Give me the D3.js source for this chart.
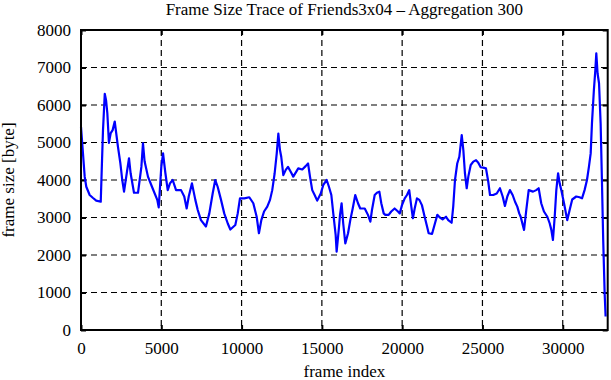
<!DOCTYPE html>
<html>
<head>
<meta charset="utf-8">
<script src="https://cdn.jsdelivr.net/npm/d3@7"></script>
<style>
  body { margin: 0; background: #fff; }
  text { font-family: "Liberation Serif", "DejaVu Serif", serif; fill: #000; }
</style>
</head>
<body>
<div id="chart"></div>
<script>
// data (frame index, mean frame size in byte)
var frameIndex = [0, 230, 330, 540, 750, 950, 1230, 1310, 1370, 1480, 1560, 1640, 1740, 1850, 1970, 2100,
  2300, 2450, 2570, 2680, 2880, 2990, 3090, 3300, 3550, 3760, 3860, 3960, 4170, 4420, 4750, 4840,
  5000, 5110, 5250, 5400, 5540, 5710, 5920, 6230, 6430, 6580, 6710, 6910, 7120, 7270, 7470, 7780,
  7990, 8200, 8360, 8510, 8720, 8920, 9140, 9300, 9610, 9760, 9900, 10170, 10480, 10730, 10940, 11080,
  11230, 11400, 11600, 11770, 11910, 12060, 12190, 12290, 12390, 12470, 12600, 12750, 12890, 13060, 13220, 13530,
  13780, 13990, 14140, 14260, 14400, 14550, 14710, 14930, 15090, 15300, 15440, 15590, 15710, 15860, 15920, 16070,
  16130, 16230, 16330, 16460, 16630, 16770, 16920, 17080, 17250, 17390, 17670, 17870, 18020, 18120, 18290, 18430,
  18580, 18700, 18850, 18950, 19160, 19320, 19530, 19740, 19850, 19990, 20160, 20300, 20440, 20570, 20670, 20780,
  20920, 21070, 21230, 21400, 21550, 21650, 21860, 22040, 22190, 22350, 22520, 22730, 22870, 23080, 23180, 23290,
  23430, 23560, 23710, 23810, 23910, 24020, 24120, 24270, 24430, 24600, 24740, 24890, 25050, 25220, 25360, 25470,
  25670, 25890, 26090, 26260, 26400, 26550, 26710, 26880, 27030, 27170, 27290, 27380, 27590, 27730, 27880, 28150,
  28350, 28500, 28660, 28830, 29040, 29190, 29290, 29390, 29500, 29600, 29710, 29810, 29910, 30080, 30280, 30430,
  30590, 30840, 31050, 31200, 31360, 31510, 31630, 31740, 31820, 31940, 32030, 32090, 32170, 32260, 32360, 32440,
  32520, 32610, 32670];

var frameSize = [5420, 4090, 3820, 3600, 3520, 3450, 3420, 4530, 5330, 6300, 6130, 5780, 4990, 5250, 5330, 5560,
  4890, 4450, 4000, 3690, 4270, 4580, 4180, 3660, 3660, 4350, 4980, 4500, 4090, 3820, 3470, 3270,
  4350, 4710, 4200, 3730, 3910, 4000, 3730, 3730, 3560, 3240, 3560, 3910, 3470, 3200, 2930, 2760,
  3110, 3640, 4000, 3820, 3470, 3110, 2840, 2680, 2800, 3110, 3510, 3510, 3540, 3380, 3020, 2580,
  2930, 3160, 3290, 3470, 3730, 4180, 4710, 5240, 4800, 4620, 4130, 4270, 4350, 4220, 4090, 4310,
  4280, 4370, 4440, 4090, 3730, 3600, 3450, 3640, 3870, 4000, 3820, 3600, 3110, 2530, 2090, 2760,
  3070, 3380, 2840, 2310, 2580, 2930, 3240, 3600, 3380, 3240, 3240, 3070, 2890, 3200, 3600, 3660,
  3690, 3380, 3110, 3070, 3070, 3160, 3240, 3160, 3110, 3330, 3510, 3600, 3730, 3290, 2980, 3240,
  3510, 3470, 3330, 3020, 2760, 2580, 2560, 2840, 3070, 3000, 2950, 3020, 2930, 2860, 3290, 4000,
  4440, 4620, 5200, 4800, 4180, 3780, 4090, 4400, 4490, 4530, 4460, 4340, 4330, 4310, 3960, 3600,
  3600, 3640, 3780, 3560, 3310, 3560, 3730, 3600, 3420, 3290, 3110, 3020, 2670, 3200, 3730, 3690,
  3730, 3780, 3380, 3160, 3020, 2840, 2670, 2400, 3020, 3730, 4180, 3910, 3730, 3380, 2930, 3200,
  3480, 3560, 3540, 3510, 3730, 4000, 4350, 4710, 5510, 6400, 6930, 7380, 6840, 6580, 5510, 4000,
  2400, 980, 360];

var xTicks = [0, 5000, 10000, 15000, 20000, 25000, 30000];
var yTicks = [0, 1000, 2000, 3000, 4000, 5000, 6000, 7000, 8000];

var svgWidth = 611;
var svgHeight = 380;
var margin = { top: 30, right: 3.3, bottom: 50, left: 81 };
var width = svgWidth - margin.left - margin.right;
var height = svgHeight - margin.top - margin.bottom;
var fontSize = "17px";

var svg = d3.select("#chart").append("svg")
  .attr("width", svgWidth)
  .attr("height", svgHeight);

var chartGroup = svg.append("g")
  .attr("transform", `translate(${margin.left}, ${margin.top})`);

var xScale = d3.scaleLinear().domain([0, 32800]).range([0, width]);
var yScale = d3.scaleLinear().domain([0, 8000]).range([height, 0]);

// dashed grid
chartGroup.selectAll(".hgrid")
  .data(yTicks.slice(1, -1))
  .enter().append("line")
  .attr("x1", 0).attr("x2", width)
  .attr("y1", d => yScale(d)).attr("y2", d => yScale(d))
  .attr("stroke", "#000").attr("stroke-width", 1.2)
  .attr("stroke-dasharray", "6,4");

chartGroup.selectAll(".vgrid")
  .data(xTicks.slice(1))
  .enter().append("line")
  .attr("y1", 0).attr("y2", height)
  .attr("x1", d => xScale(d)).attr("x2", d => xScale(d))
  .attr("stroke", "#000").attr("stroke-width", 1.2)
  .attr("stroke-dasharray", "6,4");

// axes with inward ticks
var bottomAxis = d3.axisBottom(xScale).tickValues(xTicks).tickSize(-5).tickPadding(12).tickFormat(d3.format("d"));
var topAxis = d3.axisTop(xScale).tickValues(xTicks).tickSize(-5).tickFormat("");
var leftAxis = d3.axisLeft(yScale).tickValues(yTicks).tickSize(-5).tickPadding(10).tickFormat(d3.format("d"));
var rightAxis = d3.axisRight(yScale).tickValues(yTicks).tickSize(-5).tickFormat("");

function styleAxis(g) {
  g.select(".domain").remove();
  g.selectAll(".tick line").attr("stroke", "#000").attr("stroke-width", 2);
  g.selectAll("text").attr("font-size", fontSize).attr("font-family", "Liberation Serif");
}

chartGroup.append("g").attr("transform", `translate(0, ${height})`).call(bottomAxis).call(styleAxis);
chartGroup.append("g").call(topAxis).call(styleAxis);
chartGroup.append("g").call(leftAxis).call(styleAxis);
chartGroup.append("g").attr("transform", `translate(${width}, 0)`).call(rightAxis).call(styleAxis);

// trace
var points = frameIndex.map((f, i) => [f, frameSize[i]]);
var line = d3.line()
  .x(d => xScale(d[0]))
  .y(d => yScale(d[1]));

chartGroup.append("path")
  .datum(points)
  .attr("d", line)
  .attr("fill", "none")
  .attr("stroke", "#0000ff")
  .attr("stroke-width", 2.2)
  .attr("stroke-linejoin", "round");

// frame
chartGroup.append("rect")
  .attr("width", width).attr("height", height)
  .attr("fill", "none").attr("stroke", "#000").attr("stroke-width", 2);

// labels
svg.append("text")
  .attr("x", margin.left + width / 2)
  .attr("y", 15)
  .attr("text-anchor", "middle")
  .attr("font-size", fontSize)
  .text("Frame Size Trace of Friends3x04 \u2013 Aggregation 300");

svg.append("text")
  .attr("x", margin.left + width / 2)
  .attr("y", 377)
  .attr("text-anchor", "middle")
  .attr("font-size", fontSize)
  .text("frame index");

svg.append("text")
  .attr("transform", `translate(14, ${margin.top + height / 2}) rotate(-90)`)
  .attr("text-anchor", "middle")
  .attr("font-size", fontSize)
  .text("frame size [byte]");
</script>
</body>
</html>
